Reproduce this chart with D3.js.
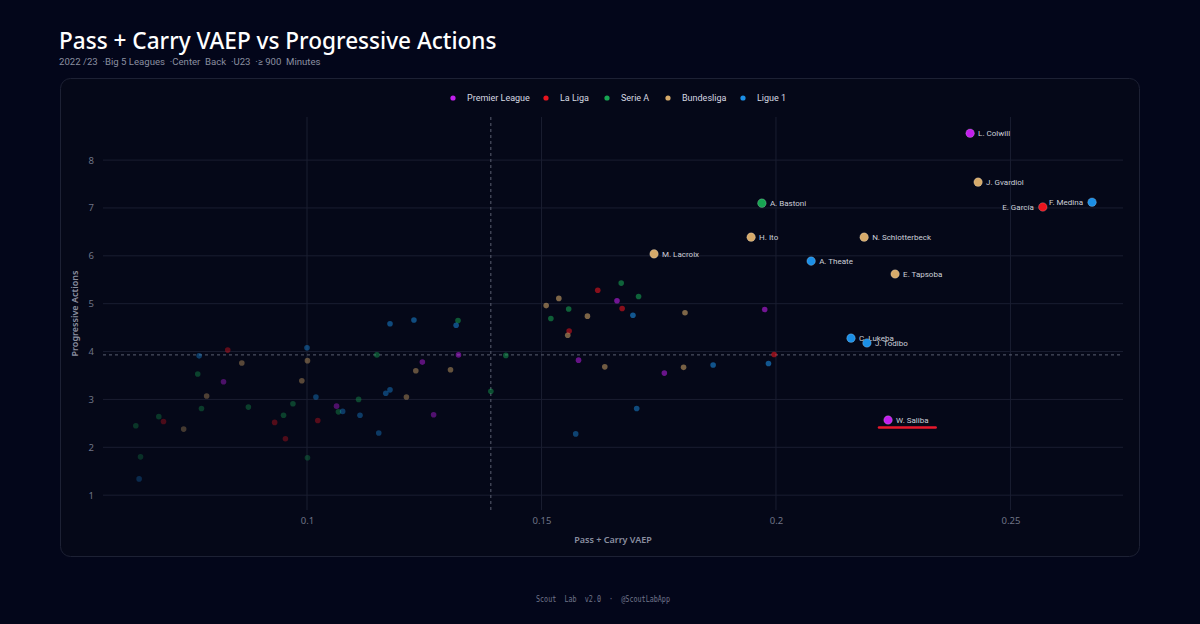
<!DOCTYPE html>
<html>
<head>
<meta charset="utf-8">
<script src="https://cdn.jsdelivr.net/npm/d3@7"></script>
<style>
  html, body { margin: 0; padding: 0; background: #03061a; }
  svg { display: block; }
</style>
</head>
<body>
<svg id="chart" width="1200" height="624"></svg>
<script>
const leagues = ['Premier League', 'La Liga', 'Serie A', 'Bundesliga', 'Ligue 1'];
const leagueColors = ['#c21fee', '#e8141e', '#17a552', '#d6aa6a', '#1b8fe6'];

// [pass + carry vaep, progressive actions] for the unlabelled players
const premierLeague = [
  [0.0822, 3.37], [0.1063, 2.86], [0.1270, 2.68], [0.1246, 3.78], [0.1323, 3.93],
  [0.1661, 5.06], [0.1579, 3.82], [0.1762, 3.55], [0.1976, 4.88]
];
const laLiga = [
  [0.0694, 2.54], [0.0831, 4.03], [0.0931, 2.52], [0.0954, 2.18], [0.1023, 2.56],
  [0.1620, 5.28], [0.1672, 4.90], [0.1559, 4.43], [0.1996, 3.94]
];
const serieA = [
  [0.0635, 2.45], [0.0645, 1.80], [0.0684, 2.64], [0.0767, 3.53], [0.0775, 2.81],
  [0.0875, 2.84], [0.0950, 2.67], [0.0970, 2.91], [0.1001, 1.78], [0.1149, 3.93],
  [0.1322, 4.65], [0.1424, 3.92], [0.1110, 3.00], [0.1067, 2.74], [0.1392, 3.17],
  [0.1670, 5.43], [0.1707, 5.15], [0.1558, 4.89], [0.1520, 4.69]
];
const bundesliga = [
  [0.0737, 2.38], [0.0786, 3.07], [0.0861, 3.76], [0.0989, 3.39], [0.1001, 3.81],
  [0.1232, 3.60], [0.1306, 3.62], [0.1212, 3.05], [0.1537, 5.11], [0.1510, 4.96],
  [0.1598, 4.74], [0.1806, 4.81], [0.1556, 4.34], [0.1635, 3.68], [0.1803, 3.67]
];
const ligue1 = [
  [0.0642, 1.34], [0.0770, 3.91], [0.1000, 4.08], [0.1019, 3.05], [0.1177, 4.58],
  [0.1228, 4.66], [0.1318, 4.55], [0.1177, 3.20], [0.1168, 3.13], [0.1076, 2.75],
  [0.1113, 2.67], [0.1153, 2.30], [0.1695, 4.76], [0.1866, 3.72], [0.1703, 2.81],
  [0.1573, 2.28], [0.1984, 3.75]
];

// labelled players
const labelNames = ['L. Colwill', 'J. Gvardiol', 'F. Medina', 'E. García', 'A. Bastoni',
  'H. Ito', 'N. Schlotterbeck', 'M. Lacroix', 'A. Theate', 'E. Tapsoba',
  'C. Lukeba', 'J. Todibo', 'W. Saliba'];
const labelLeagues = ['Premier League', 'Bundesliga', 'Ligue 1', 'La Liga', 'Serie A',
  'Bundesliga', 'Bundesliga', 'Bundesliga', 'Ligue 1', 'Bundesliga',
  'Ligue 1', 'Ligue 1', 'Premier League'];
const labelVaep = [0.2414, 0.2431, 0.2674, 0.2569, 0.1970, 0.1947, 0.2188, 0.1740,
  0.2075, 0.2254, 0.2160, 0.2194, 0.2239];
const labelProg = [8.56, 7.54, 7.12, 7.02, 7.10, 6.39, 6.39, 6.04, 5.89, 5.62, 4.28, 4.18, 2.57];

const xTicks = [0.1, 0.15, 0.2, 0.25];
const yTicks = [1, 2, 3, 4, 5, 6, 7, 8];
const meanVaep = 0.1392;
const meanProg = 3.93;
const focusPlayer = 'W. Saliba';
const leftLabelled = ['F. Medina', 'E. García'];

const svg = d3.select('#chart');
const W = 1200, H = 624;
const plot = { left: 103, right: 1123, top: 117, bottom: 510 };
const font = 'Noto Sans, sans-serif';
const smallFont = 'Roboto, Noto Sans, sans-serif';

const color = d3.scaleOrdinal().domain(leagues).range(leagueColors);
const x = d3.scaleLinear().domain([0.0565, 0.274]).range([plot.left, plot.right]);
const y = d3.scaleLinear().domain([0.69, 8.9]).range([plot.bottom, plot.top]);

svg.append('rect').attr('width', W).attr('height', H).attr('fill', '#03061a');

// title block
svg.append('text')
  .attr('x', 59).attr('y', 49)
  .attr('fill', '#ffffff')
  .style('font-family', font)
  .style('font-size', '22.6px')
  .style('font-weight', 500)
  .text('Pass + Carry VAEP vs Progressive Actions');

svg.append('text')
  .attr('x', 59).attr('y', 65)
  .attr('fill', '#8a8fa0')
  .style('font-family', smallFont)
  .style('font-size', '9.6px')
  .attr('xml:space', 'preserve')
  .text('2022 /23  ·Big 5 Leagues  ·Center  Back  ·U23  ·≥ 900  Minutes');

// panel
svg.append('rect')
  .attr('x', 60.5).attr('y', 78.5)
  .attr('width', 1079).attr('height', 478)
  .attr('rx', 10)
  .attr('fill', '#050818')
  .attr('stroke', '#1d2134');

// legend
const legendX = [453, 546, 607, 668, 743];
const legend = svg.append('g').attr('class', 'legend');
leagues.forEach((lg, i) => {
  const item = legend.append('g').attr('transform', `translate(${legendX[i]}, 98)`);
  item.append('circle').attr('r', 2.6).attr('fill', color(lg));
  item.append('text')
    .attr('x', 14).attr('y', 3.3)
    .attr('fill', '#d6d9e2')
    .style('font-family', smallFont)
    .style('font-size', '9px')
    .text(lg);
});

// grid
const grid = svg.append('g').attr('class', 'grid');
grid.selectAll('.hgrid')
  .data(yTicks)
  .enter()
  .append('line')
  .attr('x1', plot.left).attr('x2', plot.right)
  .attr('y1', d => y(d)).attr('y2', d => y(d))
  .attr('stroke', '#1a1e31').attr('stroke-width', 1);

grid.selectAll('.vgrid')
  .data(xTicks)
  .enter()
  .append('line')
  .attr('x1', d => x(d)).attr('x2', d => x(d))
  .attr('y1', plot.top).attr('y2', plot.bottom)
  .attr('stroke', '#1a1e31').attr('stroke-width', 1);

// axes (labels only)
const axisFont = g => g.selectAll('text')
  .attr('fill', '#6f7486')
  .style('font-family', font)
  .style('font-size', '9.5px');

svg.append('g')
  .attr('transform', `translate(0, ${plot.bottom + 4})`)
  .call(d3.axisBottom(x).tickValues(xTicks).tickSize(0).tickFormat(d3.format('~g')))
  .call(g => g.select('.domain').remove())
  .call(axisFont);

svg.append('g')
  .attr('transform', `translate(${plot.left - 6}, 0)`)
  .call(d3.axisLeft(y).tickValues(yTicks).tickSize(0))
  .call(g => g.select('.domain').remove())
  .call(axisFont);

svg.append('text')
  .attr('x', (plot.left + plot.right) / 2).attr('y', 543)
  .attr('text-anchor', 'middle')
  .attr('fill', '#8a8fa0')
  .style('font-family', font)
  .style('font-size', '9px')
  .style('font-weight', 600)
  .text('Pass + Carry VAEP');

svg.append('text')
  .attr('transform', `translate(78, ${(plot.top + plot.bottom) / 2}) rotate(-90)`)
  .attr('text-anchor', 'middle')
  .attr('fill', '#8a8fa0')
  .style('font-family', font)
  .style('font-size', '9px')
  .style('font-weight', 600)
  .text('Progressive Actions');

// league averages
svg.append('line')
  .attr('x1', x(meanVaep)).attr('x2', x(meanVaep))
  .attr('y1', plot.top).attr('y2', plot.bottom)
  .attr('stroke', '#5b6072').attr('stroke-dasharray', '3,3');

svg.append('line')
  .attr('x1', plot.left).attr('x2', plot.right)
  .attr('y1', y(meanProg)).attr('y2', y(meanProg))
  .attr('stroke', '#5b6072').attr('stroke-dasharray', '3,3');

// background players, faded
const others = [premierLeague, laLiga, serieA, bundesliga, ligue1]
  .flatMap((list, i) => list.map(p => ({ league: leagues[i], vaep: p[0], prog: p[1] })));

const fade = d3.scaleLinear().domain([0.2, 1.6]).range([0.26, 0.58]).clamp(true);

svg.append('g')
  .selectAll('circle')
  .data(others)
  .enter()
  .append('circle')
  .attr('cx', d => x(d.vaep))
  .attr('cy', d => y(d.prog))
  .attr('r', 2.8)
  .attr('fill', d => color(d.league))
  .attr('opacity', d => fade((d.vaep - 0.06) / 0.14 + (d.prog - 1) / 4.5));

// labelled players
const labelled = labelNames.map((name, i) => ({
  name,
  league: labelLeagues[i],
  vaep: labelVaep[i],
  prog: labelProg[i]
}));

const tops = svg.append('g')
  .selectAll('g')
  .data(labelled)
  .enter()
  .append('g')
  .attr('transform', d => `translate(${x(d.vaep)}, ${y(d.prog)})`);

tops.append('circle')
  .attr('r', 4.3)
  .attr('fill', d => color(d.league))
  .attr('stroke', 'rgba(255,255,255,0.25)')
  .attr('stroke-width', 0.8);

tops.append('text')
  .attr('x', d => leftLabelled.includes(d.name) ? -9 : 8)
  .attr('y', 2.9)
  .attr('text-anchor', d => leftLabelled.includes(d.name) ? 'end' : 'start')
  .attr('fill', '#cdd0d9')
  .style('font-family', smallFont)
  .style('font-size', '8px')
  .text(d => d.name);

// underline the focus player
tops.filter(d => d.name === focusPlayer)
  .each(function () {
    const g = d3.select(this);
    const w = g.select('text').node().getComputedTextLength();
    g.append('line')
      .attr('x1', -9).attr('x2', 8 + w + 7)
      .attr('y1', 7.5).attr('y2', 7.5)
      .attr('stroke', '#e8182c')
      .attr('stroke-width', 2.6)
      .attr('stroke-linecap', 'round');
  });

// footer
svg.append('text')
  .attr('x', 603).attr('y', 602)
  .attr('text-anchor', 'middle')
  .attr('fill', '#70758a')
  .attr('xml:space', 'preserve')
  .attr('textLength', 134)
  .attr('lengthAdjust', 'spacingAndGlyphs')
  .style('font-family', 'DejaVu Sans Mono, monospace')
  .style('font-size', '8px')
  .text('Scout  Lab  v2.0  ·  @ScoutLabApp');
</script>
</body>
</html>
